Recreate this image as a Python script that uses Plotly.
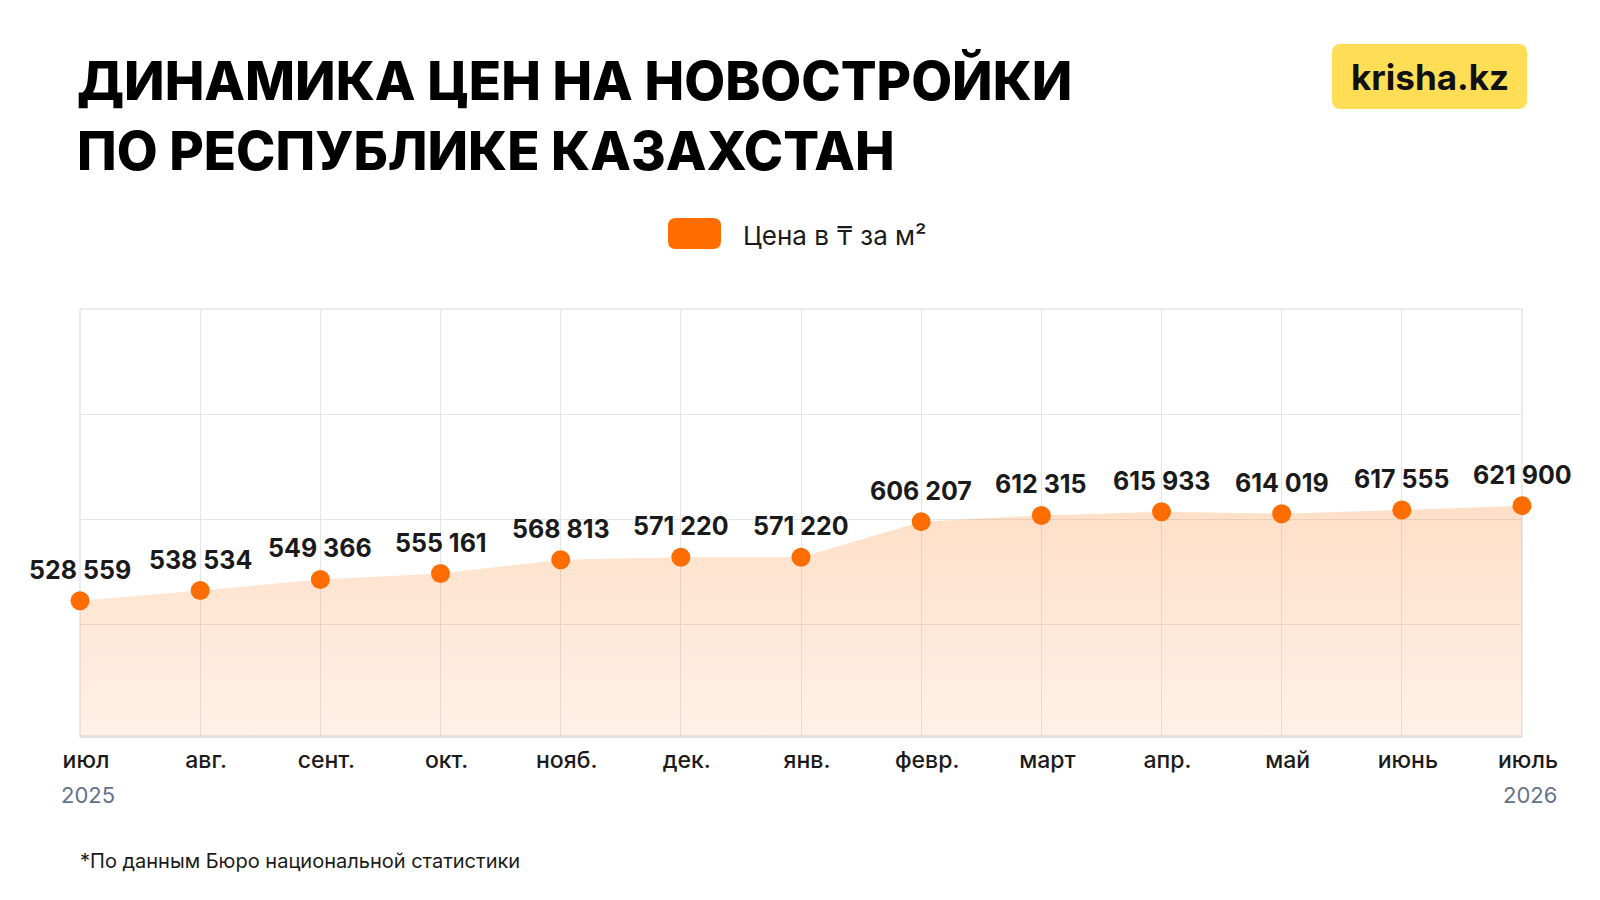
import plotly.graph_objects as go

months = ["июл", "авг.", "сент.", "окт.", "нояб.", "дек.", "янв.", "февр.", "март", "апр.", "май", "июнь", "июль"]
years = {0: "2025", 12: "2026"}
prices = [528559, 538534, 549366, 555161, 568813, 571220, 571220, 606207, 612315, 615933, 614019, 617555, 621900]

W, H = 1600, 900
OFF = 8  # page body margin
L, R, T, B = 80 - OFF, 1522 - OFF, 309 - OFF, 736 - OFF
Y_RANGE = [395600, 815100]
GRID_START, GRID_STEP = 505600, 102700


def px(x):
    return (x - OFF - L) / (R - L)


def py(y):
    return (B - (y - OFF)) / (B - T)


ORANGE = "#FF6D00"
GRID = "#E6E6EA"
xs = list(range(len(months)))
labels = [f"{v:,}".replace(",", " ") for v in prices]

fig = go.Figure()
fig.add_trace(go.Scatter(
    x=xs, y=prices,
    mode="lines",
    line=dict(width=0, color="rgba(0,0,0,0)"),
    fill="tozeroy",
    fillgradient=dict(type="vertical",
                      colorscale=[[0, "rgba(255,109,0,0.10)"], [1, "rgba(255,109,0,0.22)"]],
                      start=Y_RANGE[0], stop=625000),
    hoverinfo="skip", showlegend=False,
))
fig.add_trace(go.Scatter(
    x=xs, y=prices,
    mode="markers",
    marker=dict(size=19, color=ORANGE),
    cliponaxis=False,
    showlegend=False,
))

fig.update_xaxes(
    range=[0, len(months) - 1],
    tickvals=xs, ticktext=months,
    showgrid=True, gridcolor=GRID, gridwidth=1,
    showline=True, linecolor="#DCDFE6", linewidth=2,
    zeroline=False, ticks="", ticklabelshift=6, ticklabelstandoff=2,
    tickfont=dict(family="Inter", size=23, color="#1A1A1A", weight=500),
    fixedrange=True,
)
fig.update_yaxes(
    range=Y_RANGE,
    tickvals=[GRID_START + k * GRID_STEP for k in range(3)], showticklabels=False,
    showgrid=True, gridcolor=GRID, gridwidth=1,
    zeroline=False, showline=False, fixedrange=True,
)

annotations = [
    dict(text="ДИНАМИКА ЦЕН НА НОВОСТРОЙКИ", x=px(75), y=py(81), xanchor="left", yanchor="middle",
         font=dict(family="Inter", size=53, color="#000000", weight=800)),
    dict(text="ПО РЕСПУБЛИКЕ КАЗАХСТАН", x=px(75), y=py(151), xanchor="left", yanchor="middle",
         font=dict(family="Inter", size=53, color="#000000", weight=800)),
    dict(text="krisha.kz", x=px(1430), y=py(77), xanchor="center", yanchor="middle",
         font=dict(family="Inter", size=35, color="#111111", weight=700)),
    dict(text="Цена в ₸ за м²", x=px(741), y=py(235), xanchor="left", yanchor="middle",
         font=dict(family="Inter", size=26, color="#1A1A1A", weight=400)),
    dict(text="*По данным Бюро национальной статистики", x=px(78), y=py(861), xanchor="left", yanchor="middle",
         font=dict(family="Inter", size=20, color="#1A1A1A", weight=400)),
]
for a in annotations:
    a.update(xref="paper", yref="paper", showarrow=False)

# value labels above points
for i, (v, t) in enumerate(zip(prices, labels)):
    annotations.append(dict(
        x=i, y=v, xref="x", yref="y", text=t, showarrow=False,
        xanchor="center", yanchor="middle", yshift=31,
        font=dict(family="Inter", size=25, color="#1A1A1A", weight=700),
    ))

# year labels under first and last ticks
for i, yr in years.items():
    annotations.append(dict(
        x=i, y=py(795), xref="x", yref="paper", text=yr, showarrow=False,
        xanchor="center", yanchor="middle", xshift=8,
        font=dict(family="Inter", size=22, color="#66718C", weight=400),
    ))


def rounded_rect(x0, y0, x1, y1, r):
    X0, X1 = px(x0), px(x1)
    Y0, Y1 = py(y0), py(y1)
    rx = r / (R - L)
    ry = r / (B - T)
    return (f"M {X0+rx},{Y0} L {X1-rx},{Y0} Q {X1},{Y0} {X1},{Y0-ry} "
            f"L {X1},{Y1+ry} Q {X1},{Y1} {X1-rx},{Y1} L {X0+rx},{Y1} "
            f"Q {X0},{Y1} {X0},{Y1+ry} L {X0},{Y0-ry} Q {X0},{Y0} {X0+rx},{Y0} Z")


shapes = [
    dict(type="path", path=rounded_rect(1332, 44, 1527, 109, 9), fillcolor="#FFDD55",
         line=dict(width=0), xref="paper", yref="paper", layer="below"),
    dict(type="path", path=rounded_rect(668, 218, 721, 249, 8), fillcolor=ORANGE,
         line=dict(width=0), xref="paper", yref="paper"),
    dict(type="rect", x0=0, x1=1, y0=0, y1=1, xref="paper", yref="paper",
         line=dict(color=GRID, width=1.5), fillcolor="rgba(0,0,0,0)", layer="below"),
]

fig.update_layout(
    width=W, height=H,
    margin=dict(l=L, r=W - R, t=T, b=H - B),
    paper_bgcolor="white", plot_bgcolor="white",
    annotations=annotations, shapes=shapes,
    showlegend=False,
    font=dict(family="Inter"),
)

fig.write_html("out.html", config={"displayModeBar": False})
